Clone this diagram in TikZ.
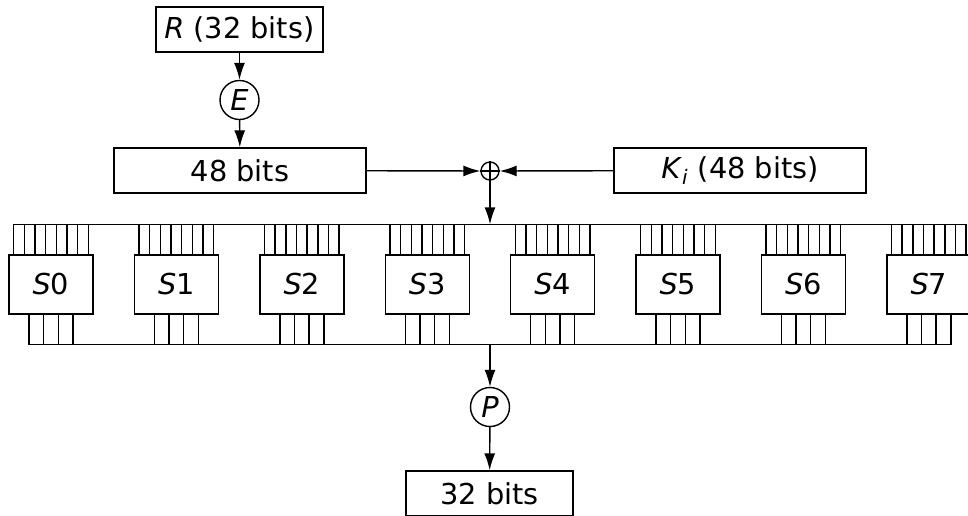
\documentclass[tikz,border=0pt]{standalone}
\usepackage{fontspec}
\setmainfont{DejaVu Sans}
\usetikzlibrary{arrows.meta}
\tikzset{
  box/.style={draw, inner sep=0pt, minimum height=22.5pt},
  sbox/.style={box, minimum width=42pt, minimum height=29.5pt},
  op/.style={draw, circle, inner sep=0pt, minimum size=19.5pt},
  flow/.style={-{Latex[length=8.5pt,width=5.5pt]}},
}
\begin{document}
\begin{tikzpicture}[font=\fontsize{14.4}{17}\selectfont, line width=0.7pt]
    \def\x{0.5pt}
    \def\y{-0.5pt}
    \useasboundingbox (0,0) rectangle (968*\x, 515*\y);
    \node[box, minimum width=83.5pt] (R) at (239.5*\x, 29.5*\y) {\textit{R} (32 bits)};
    \node[op] (E) at (239.5*\x, 100*\y) {\textit{E}};
    \node[box, minimum width=126pt] (L48) at (240*\x, 170.5*\y) {48 bits};
    \node[op, minimum size=9pt] (X) at (490*\x, 171*\y) {};
    \node[box, minimum width=126pt] (K) at (740*\x, 170.5*\y) {\textit{K}\textsubscript{\textit{i}} (48 bits)};
    \node[op] (P) at (490*\x, 407*\y) {\textit{P}};
    \node[box, minimum width=83.5pt] (out) at (489.5*\x, 493.5*\y) {32 bits};
    \draw (X.north) -- (X.south) (X.west) -- (X.east);
    \path (R) edge [flow] (E);
    \path (E) edge [flow] (L48);
    \path (L48) edge [flow] (X);
    \path (K) edge [flow] (X);
    % S-boxes with their input and output wires
    \foreach \i in {0,...,7} {
      \node[sbox] (S\i) at ({(51+125.4*\i)*\x}, 284.5*\y) {\textit{S}\i};
      \foreach \k in {0,...,7}
        \draw ([xshift={(\k*10.67-37.33)*\x}]S\i.north) -- ++(0,15pt);
      \foreach \k in {0,...,3}
        \draw ([xshift={(\k*14.67-22)*\x}]S\i.south) -- ++(0,-15pt);
    }
    \coordinate (T0) at ([xshift=-18.67pt, yshift=15pt]S0.north);
    \coordinate (T7) at ([xshift=18.67pt, yshift=15pt]S7.north);
    \coordinate (B0) at ([xshift=-11pt, yshift=-15pt]S0.south);
    \coordinate (B7) at ([xshift=11pt, yshift=-15pt]S7.south);
    \draw (T0) -- (T7);
    \draw (B0) -- (B7);
    \draw[flow] (X) -- (X |- T0);
    \draw[flow] (X |- B0) -- (P);
    \path (P) edge [flow] (out);
\end{tikzpicture}
\end{document}
